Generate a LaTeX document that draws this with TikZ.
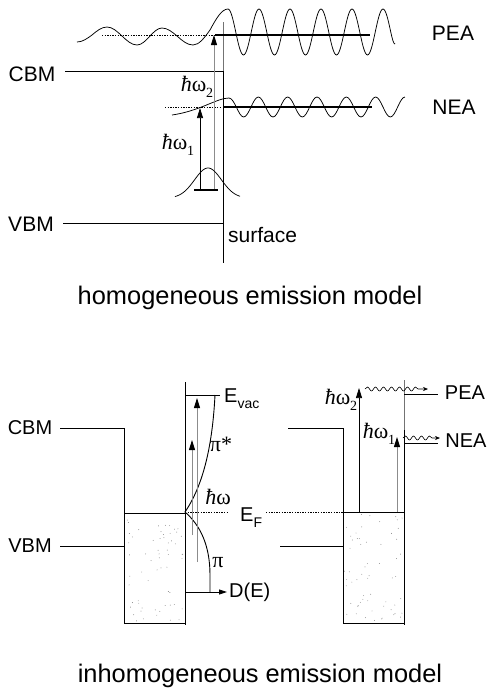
\documentclass[tikz,border=0pt]{standalone}
\usepackage{fontspec}
\setmainfont{Liberation Sans}
\newfontfamily\serifgr{Liberation Serif}
\usetikzlibrary{arrows.meta,decorations.pathmorphing}
\newcommand\mysub[1]{\raisebox{-0.3em}{\fontsize{14}{14}\selectfont #1}}
\begin{document}
\begin{tikzpicture}[x=1pt,y=-1pt,
  line/.style={line width=0.9pt},
  thinw/.style={line width=0.75pt},
  lab/.style={font=\fontsize{21}{24}\selectfont, inner sep=0pt},
  labs/.style={font=\fontsize{20}{24}\selectfont, inner sep=0pt},
  ttl/.style={font=\fontsize{25.4}{30}\selectfont, inner sep=0pt},
  hw/.style={font=\fontsize{22}{24}\selectfont\serifgr, inner sep=0pt},
  tipb/.style={-{Triangle[length=10pt,width=6pt,color=black]}},
  grayarrow/.style={line width=0.9pt, draw=black!45, tipb},
  dotl/.style={line width=0.8pt, dash pattern=on 1.3pt off 1.3pt},
  wav/.style={line width=0.6pt, decorate, decoration={snake, segment length=8pt, amplitude=2pt, post length=7pt}, -{Stealth[length=5pt,width=4pt]}},
  stip/.style={fill=black!50}
]
\useasboundingbox (0,0) rectangle (489,689);

%================ homogeneous model ================
% surface line
\draw[line, draw=black!55] (223,22) -- (223,71);
\draw[line] (223,71) -- (223,263);
% band edges
\draw[line] (65,71) -- (223,71);
\draw[line] (63,223) -- (223,223);
\node[lab] (cbm1) at (32,74) {CBM};
\node[lab] (vbm1) at (31,224) {VBM};
\node[lab, anchor=west] (surf) at (228,234.5) {surface};
\node[lab] (pea1) at (453,33) {PEA};
\node[lab] (nea1) at (454,107) {NEA};

% PEA level
\draw[dotl] (102,35) -- (215,35);
\draw[line width=1.3pt] (215,35) -- (370,35);
% PEA wave
\draw[thinw] (77,42) cos (92,35) sin (107,27) cos (122,36) sin (137,45)
  cos (150,36) sin (162,28) cos (177,36) sin (193,45) cos (210,30) sin (228,9)
  \foreach \k in {0,...,4} { cos ({235.75+31*\k},32) sin ({243.5+31*\k},55)
  cos ({251.25+31*\k},32) sin ({259+31*\k},9) } cos (390.75,32) sin (395,44);

% NEA level
\draw[dotl] (165,107) -- (221,107);
\draw[line width=1.3pt] (223,107) -- (372,107);
% NEA wave
\draw[thinw] (172,115) .. controls (200,111) and (217,98) .. (229,98)
  \foreach \k in {0,...,5} { cos ({236.33+29.33*\k},107) sin ({243.67+29.33*\k},117)
  cos ({251+29.33*\k},107) sin ({258.33+29.33*\k},97) };

% excitation arrows
\draw[grayarrow] (214,190) -- (214,35);
\draw[thinw, tipb] (200,190) -- (200,108);
\draw[line width=1.6pt] (194,190) -- (218,190);
\draw[thinw] plot[domain=175:240, samples=60, smooth] (\x, {198-30*exp(-((\x-208)/19)^2)});
\node[hw] (hw2a) at (197,87) {\textit{ħ}ω\mysub{2}};
\node[hw] (hw1a) at (178,145) {\textit{ħ}ω\mysub{1}};

\node[ttl] (t1) at (250,297.5) {homogeneous emission model};

%================ inhomogeneous model ================
% stipple
\pgfmathsetseed{12}
\foreach \i in {1,...,60} {
  \fill[stip] ({125+59*rnd},{515+107*rnd}) circle (0.45);
  \fill[stip] ({344+59*rnd},{514+108*rnd}) circle (0.45);
}
% left block
\draw[line] (60,428) -- (124,428) -- (124,623) -- (185,623);
\draw[line] (60,546) -- (124,546);
\draw[line] (124,513) -- (185,513);
\draw[line] (185,382) -- (185,625);
\node[labs] (cbm2) at (30,428) {CBM};
\node[labs] (vbm2) at (30,546) {VBM};
% vacuum level and DOS
\draw[line] (185,395) -- (220,395);
\draw[line] (215,395) .. controls (212,455) and (200,490) .. (185,512)
  .. controls (200,525) and (210,545) .. (210,575) -- (210,592);
\draw[line, -{Triangle[length=8pt,width=5pt]}] (185,592) -- (227,592);
\node[labs, anchor=base west] (evac) at (224,402) {E\mysub{vac}};
\node[labs, anchor=west] (de) at (229,592) {D(E)};
\node[hw] (pistar) at (221,444) {π*};
\node[hw] (pi) at (218,563) {π};
\node[hw] (hw0) at (218,497) {\textit{ħ}ω};
\draw[grayarrow] (192,535) -- (192,440);
\draw[grayarrow] (197,562) -- (197,398);
% Fermi level
\draw[dotl] (185,512) -- (229,512);
\draw[dotl] (266,512) -- (343,512);
\node[labs, anchor=base west] (ef) at (240,521) {E\mysub{F}};

% right block
\draw[line] (288,428) -- (343,428) -- (343,623) -- (404,623);
\draw[line] (280,546) -- (343,546);
\draw[line] (343,512) -- (404,512);
\draw[line, draw=black!55] (404,380) -- (404,430);
\draw[line] (404,430) -- (404,625);
\draw[line] (404,394) -- (438,394);
\draw[line] (404,443) -- (438,443);
\node[labs] (pea2) at (465,393) {PEA};
\node[labs] (nea2) at (466,441) {NEA};
\draw[thinw, tipb] (359,512) -- (359,388);
\draw[grayarrow] (397,512) -- (397,437);
\node[hw] (hw2b) at (341,400) {\textit{ħ}ω\mysub{2}};
\node[hw] (hw1b) at (379,434) {\textit{ħ}ω\mysub{1}};
\draw[wav] (365,389) -- (428,389);
\draw[wav] (403,438) -- (440,438);

\node[ttl] (t2) at (260,675.5) {inhomogeneous emission model};
\end{tikzpicture}
\end{document}
